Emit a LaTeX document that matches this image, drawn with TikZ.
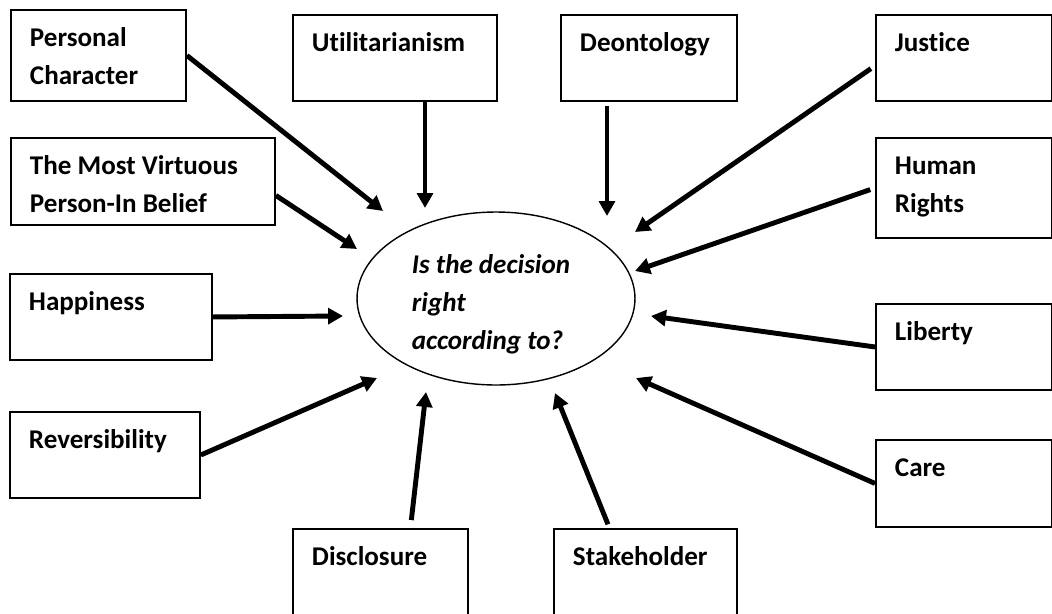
\documentclass[tikz,border=0pt]{standalone}
\usepackage{fontspec}
\setmainfont{Carlito}[Ligatures=NoCommon]
\usetikzlibrary{shapes.geometric,arrows.meta}

\begin{document}
\begin{tikzpicture}[x=0.02cm,y=-0.02cm]

%styles
\tikzset{
    cadre/.style 2 args={draw, line width=1.1pt, anchor=north west, align=flush left,
        inner xsep=0.38cm, inner ysep=0pt, text width=#1, text height=0.73cm, text depth=#2,
        font=\fontsize{15.4pt}{21.6pt}\selectfont\bfseries},
    bulle/.style={draw, ellipse, line width=0.8pt, minimum width=5.56cm, minimum height=3.46cm,
        inner sep=0pt, align=left, font=\fontsize{15.4pt}{21.6pt}\selectfont\bfseries\itshape},
    fleche/.style={-{Triangle[length=8.5pt,width=9pt]}, line width=2.8pt}
}

\useasboundingbox (0,0) rectangle (1052,613);

%question
\node[bulle] (q) at (496,298.5) {\rule{0pt}{0.6cm}Is the decision\hspace*{0.2cm}\rule{0pt}{0pt}\\right\\according to?};

%cadres
\node[cadre={2.74cm}{1.09cm}] (pc) at (10,9) {Personal\\Character};
\node[cadre={4.52cm}{1.01cm}] (vp) at (10,137) {The Most Virtuous\\Person-In Belief};
\node[cadre={3.28cm}{0.99cm}] (ha) at (9,273) {Happiness};
\node[cadre={3.04cm}{0.99cm}] (re) at (9,411) {Reversibility};
\node[cadre={3.32cm}{0.99cm}] (ut) at (292,14) {Utilitarianism};
\node[cadre={2.76cm}{0.99cm}] (de) at (560,14) {Deontology};
\node[cadre={2.76cm}{0.99cm}] (ju) at (875,14) {Justice};
\node[cadre={2.76cm}{1.27cm}] (hr) at (875,137) {Human\\Rights};
\node[cadre={2.76cm}{0.99cm}] (li) at (875,303) {Liberty};
\node[cadre={2.76cm}{1.01cm}] (ca) at (875,439) {Care};
\node[cadre={2.74cm}{1.01cm}] (di) at (292,528) {Disclosure};
\node[cadre={2.90cm}{1.01cm}] (st) at (553,528) {Stakeholder};

%pointes des fleches
\coordinate (tpc) at (383,211);
\coordinate (tvp) at (357,249);
\coordinate (tha) at (343,316);
\coordinate (tre) at (377,378);
\coordinate (tut) at (425,208);
\coordinate (tde) at (607,216);
\coordinate (tju) at (635,232);
\coordinate (thr) at (635,271);
\coordinate (tli) at (651,316);
\coordinate (tca) at (636,378);
\coordinate (tdi) at (426,392);
\coordinate (tst) at (555,393);

%fleches
\draw[fleche] (pc.east) -- (tpc);
\draw[fleche] (vp.-6.3) -- (tvp);
\draw[fleche] (ha.east) -- (tha);
\draw[fleche] (re.east) -- (tre);
\draw[fleche] (tut |- ut.south) -- (tut);
\draw[fleche, shorten <=0.08cm] (tde |- de.south) -- (tde);
\draw[fleche, shorten <=0.1cm] (ju.185) -- (tju);
\draw[fleche, shorten <=0.1cm] (hr.west) -- (thr);
\draw[fleche] (li.west) -- (tli);
\draw[fleche] (ca.west) -- (tca);
\draw[fleche, shorten <=0.16cm] (di.56.8) -- (tdi);
\draw[fleche, shorten <=0.08cm] (st.129.2) -- (tst);

\end{tikzpicture}
\end{document}
